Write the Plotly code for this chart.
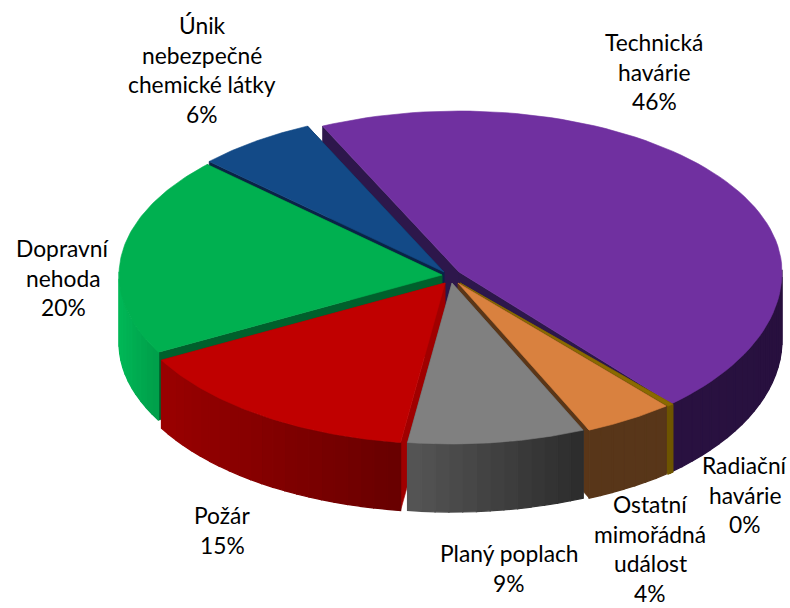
import numpy as np
import plotly.graph_objects as go

categories = ["Technická havárie", "Radiační havárie", "Ostatní mimořádná událost", "Planý poplach",
              "Požár", "Dopravní nehoda", "Únik nebezpečné chemické látky"]
values = [45.5, 0.3, 4.49, 8.85, 14.85, 20.0, 6.01]
percent_labels = ["46%", "0%", "4%", "9%", "15%", "20%", "6%"]

label_lines = [["Technická", "havárie"], ["Radiační", "havárie"], ["Ostatní", "mimořádná", "událost"],
               ["Planý poplach"], ["Požár"], ["Dopravní", "nehoda"], ["Únik", "nebezpečné", "chemické látky"]]
label_pos = [(654, 42), (745, 465), (650, 504), (509, 553), (222, 515), (63, 248), (202, 25)]

top_col = ["#7030A0", "#8A6A00", "#D9813F", "#808080", "#C00000", "#00B050", "#134A87"]
wall_l = [(48, 22, 72), (110, 85, 0), (88, 54, 25), (88, 88, 88), (155, 0, 0), (0, 160, 75), (10, 35, 70)]
wall_r = [(42, 18, 65), (110, 85, 0), (88, 54, 25), (45, 45, 45), (105, 0, 0), (0, 130, 60), (10, 35, 70)]
face_col = ["#2D174B", "#6E5500", "#5A3618", "#555555", "#A00000", "#00602C", "#0A2346"]
apex = [(459, 272), (460, 283), (458, 283), (452, 283), (445, 283), (442, 275), (444, 272)]
ry_front = [175, 161, 161, 161, 161, 161, 161]
RX, RY, DEPTH = 323, 161, 68
START = -25.0
draw_order = [0, 1, 2, 6, 5, 4, 3]

edges = START + np.concatenate([[0], np.cumsum(values)]) / sum(values) * 360

fig = go.Figure()


def poly(xs, ys, color, w=0.6):
    fig.add_trace(go.Scatter(x=list(xs) + [xs[0]], y=list(ys) + [ys[0]], mode="lines", fill="toself",
                             fillcolor=color, line=dict(color=color, width=w),
                             hoverinfo="skip", showlegend=False))


def pt(i, th):
    t = np.radians(th)
    c = np.cos(t)
    return apex[i][0] + RX * np.sin(t), apex[i][1] - (RY if c > 0 else ry_front[i]) * c


for i in draw_order:
    a, b = edges[i], edges[i + 1]
    for th in (a, b):
        x, y = pt(i, th)
        ax, ay = apex[i]
        poly([ax, x, x, ax], [ay, y, y + DEPTH, ay + DEPTH], face_col[i])
    ths = np.linspace(a, b, max(3, int((b - a) / 2.5) + 2))
    slice_x = [pt(i, t)[0] for t in (a, b)]
    for k in range(len(ths) - 1):
        t0, t1 = ths[k], ths[k + 1]
        if np.cos(np.radians((t0 + t1) / 2)) > 0.02:
            continue
        x0, y0 = pt(i, t0)
        x1, y1 = pt(i, t1)
        f = (x0 - min(slice_x)) / max(1, abs(slice_x[1] - slice_x[0]))
        c = [int(wall_l[i][n] + (wall_r[i][n] - wall_l[i][n]) * f) for n in range(3)]
        poly([x0, x1, x1, x0], [y0, y1, y1 + DEPTH, y0 + DEPTH], f"rgb({c[0]},{c[1]},{c[2]})", 1.3)
    ths = np.linspace(a, b, 80)
    xs = [apex[i][0]] + [pt(i, t)[0] for t in ths]
    ys = [apex[i][1]] + [pt(i, t)[1] for t in ths]
    poly(xs, ys, top_col[i])

LH = 29.7
for lines, pct, (lx, ly) in zip(label_lines, percent_labels, label_pos):
    for n, s in enumerate(lines + [pct]):
        fig.add_annotation(x=lx, y=ly + n * LH, text=s, showarrow=False, xanchor="center", yanchor="middle",
                           font=dict(family="Lato", size=22.8, color="#000000"))

fig.update_layout(width=790, height=608, margin=dict(l=0, r=0, t=0, b=0), showlegend=False,
                  paper_bgcolor="white", plot_bgcolor="white",
                  xaxis=dict(range=[0, 790], visible=False, fixedrange=True),
                  yaxis=dict(range=[608, 0], visible=False, fixedrange=True))
fig.write_html("out.html", config=dict(displayModeBar=False),
               post_script="document.body.style.margin='0';document.body.style.overflow='hidden';")
